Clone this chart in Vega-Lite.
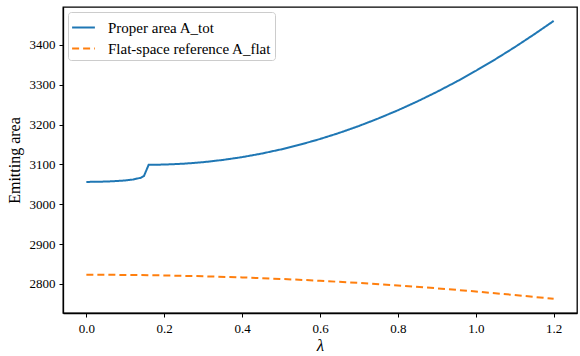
{
  "$schema": "https://vega.github.io/schema/vega-lite/v6.json",
  "width": 514,
  "height": 306,
  "autosize": {"type": "none"},
  "padding": {"left": 63, "top": 7, "right": 3, "bottom": 43},
  "background": "white",
  "config": {
    "font": "Liberation Serif",
    "view": {"stroke": "black", "strokeWidth": 1.3},
    "legend": {"labelFont": "Liberation Serif", "titleFont": "Liberation Serif"},
    "axis": {
      "grid": false,
      "domainColor": "black",
      "domainWidth": 1.3,
      "tickColor": "black",
      "tickSize": 4,
      "tickWidth": 1,
      "labelFont": "Liberation Serif",
      "labelFontSize": 13,
      "labelColor": "black",
      "titleFont": "Liberation Serif",
      "titleFontWeight": "normal",
      "titleColor": "black"
    }
  },
  "data": {
    "values": [
      {"lam": 0.0, "value": 3056.0, "series": "Proper area A_tot"},
      {"lam": 0.02, "value": 3056.2, "series": "Proper area A_tot"},
      {"lam": 0.04, "value": 3056.6, "series": "Proper area A_tot"},
      {"lam": 0.06, "value": 3057.3, "series": "Proper area A_tot"},
      {"lam": 0.08, "value": 3058.3, "series": "Proper area A_tot"},
      {"lam": 0.10, "value": 3059.7, "series": "Proper area A_tot"},
      {"lam": 0.12, "value": 3062.0, "series": "Proper area A_tot"},
      {"lam": 0.14, "value": 3066.5, "series": "Proper area A_tot"},
      {"lam": 0.148, "value": 3071.0, "series": "Proper area A_tot"},
      {"lam": 0.16, "value": 3099.0, "series": "Proper area A_tot"},
      {"lam": 0.2, "value": 3099.5, "series": "Proper area A_tot"},
      {"lam": 0.25, "value": 3101.7, "series": "Proper area A_tot"},
      {"lam": 0.3, "value": 3105.5, "series": "Proper area A_tot"},
      {"lam": 0.35, "value": 3111.1, "series": "Proper area A_tot"},
      {"lam": 0.4, "value": 3118.2, "series": "Proper area A_tot"},
      {"lam": 0.45, "value": 3127.1, "series": "Proper area A_tot"},
      {"lam": 0.5, "value": 3137.6, "series": "Proper area A_tot"},
      {"lam": 0.55, "value": 3149.8, "series": "Proper area A_tot"},
      {"lam": 0.6, "value": 3163.7, "series": "Proper area A_tot"},
      {"lam": 0.65, "value": 3179.2, "series": "Proper area A_tot"},
      {"lam": 0.7, "value": 3196.4, "series": "Proper area A_tot"},
      {"lam": 0.75, "value": 3215.3, "series": "Proper area A_tot"},
      {"lam": 0.8, "value": 3235.8, "series": "Proper area A_tot"},
      {"lam": 0.85, "value": 3258.0, "series": "Proper area A_tot"},
      {"lam": 0.9, "value": 3281.9, "series": "Proper area A_tot"},
      {"lam": 0.95, "value": 3307.4, "series": "Proper area A_tot"},
      {"lam": 1.0, "value": 3334.7, "series": "Proper area A_tot"},
      {"lam": 1.05, "value": 3363.6, "series": "Proper area A_tot"},
      {"lam": 1.1, "value": 3394.1, "series": "Proper area A_tot"},
      {"lam": 1.15, "value": 3426.4, "series": "Proper area A_tot"},
      {"lam": 1.2, "value": 3460.0, "series": "Proper area A_tot"},
      {"lam": 0.0, "value": 2823.0, "series": "Flat-space reference A_flat"},
      {"lam": 0.1, "value": 2822.6, "series": "Flat-space reference A_flat"},
      {"lam": 0.2, "value": 2821.3, "series": "Flat-space reference A_flat"},
      {"lam": 0.3, "value": 2819.2, "series": "Flat-space reference A_flat"},
      {"lam": 0.4, "value": 2816.3, "series": "Flat-space reference A_flat"},
      {"lam": 0.5, "value": 2812.5, "series": "Flat-space reference A_flat"},
      {"lam": 0.6, "value": 2807.9, "series": "Flat-space reference A_flat"},
      {"lam": 0.7, "value": 2802.4, "series": "Flat-space reference A_flat"},
      {"lam": 0.8, "value": 2796.1, "series": "Flat-space reference A_flat"},
      {"lam": 0.9, "value": 2789.0, "series": "Flat-space reference A_flat"},
      {"lam": 1.0, "value": 2781.0, "series": "Flat-space reference A_flat"},
      {"lam": 1.1, "value": 2772.2, "series": "Flat-space reference A_flat"},
      {"lam": 1.2, "value": 2762.5, "series": "Flat-space reference A_flat"}
    ]
  },
  "mark": {"type": "line", "strokeWidth": 2, "clip": true},
  "encoding": {
    "x": {
      "field": "lam",
      "type": "quantitative",
      "scale": {"domain": [-0.06, 1.26], "nice": false, "zero": false},
      "axis": {"title": "λ", "titleFont": "Liberation Serif", "titleFontStyle": "italic", "titleFontSize": 17, "titlePadding": 2, "values": [0, 0.2, 0.4, 0.6, 0.8, 1.0, 1.2], "format": ".1f", "labelPadding": 5, "labelFont": "Liberation Serif", "labelFontSize": 13}
    },
    "y": {
      "field": "value",
      "type": "quantitative",
      "scale": {"domain": [2727, 3495], "nice": false, "zero": false},
      "axis": {"title": "Emitting area", "titleFont": "Liberation Serif", "titleFontSize": 16, "titlePadding": 7, "values": [2800, 2900, 3000, 3100, 3200, 3300, 3400], "format": "d", "labelPadding": 4, "labelFont": "Liberation Serif", "labelFontSize": 13}
    },
    "color": {
      "field": "series",
      "type": "nominal",
      "scale": {"domain": ["Proper area A_tot", "Flat-space reference A_flat"], "range": ["#1f77b4", "#ff7f0e"]},
      "legend": {
        "title": null,
        "orient": "top-left",
        "offset": 5,
        "fillColor": "white",
        "strokeColor": "#cccccc",
        "cornerRadius": 3,
        "padding": 3,
        "symbolType": "stroke",
        "symbolSize": 520,
        "symbolStrokeWidth": 2,
        "labelFont": "Liberation Serif",
        "labelFontSize": 15,
        "labelColor": "black",
        "labelLimit": 400,
        "rowPadding": 0,
        "labelOffset": 12
      }
    },
    "strokeDash": {
      "field": "series",
      "type": "nominal",
      "scale": {"domain": ["Proper area A_tot", "Flat-space reference A_flat"], "range": [[1, 0], [7, 4]]},
      "legend": null
    }
  }
}
